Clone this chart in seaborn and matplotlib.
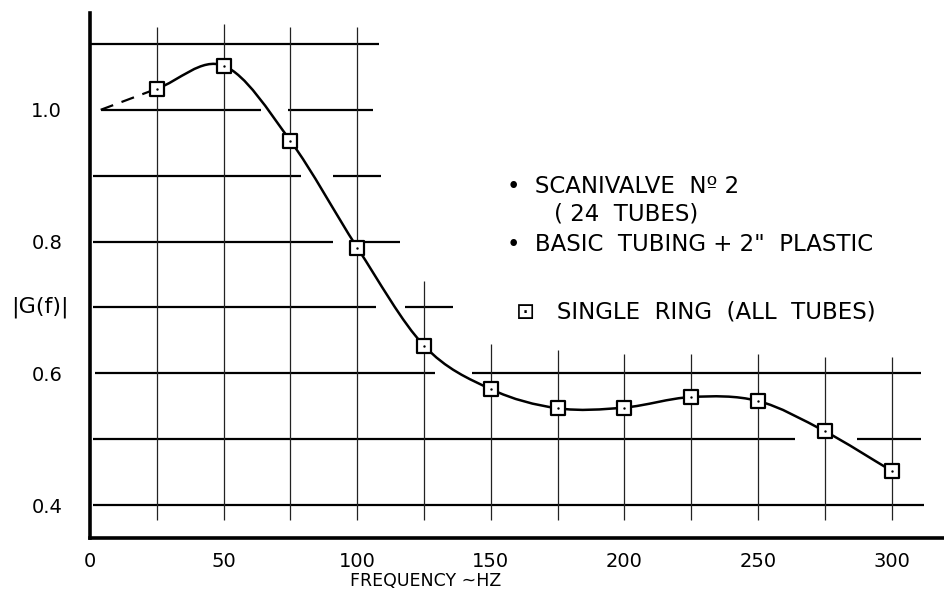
import numpy as np
import pandas as pd
import seaborn as sns
import matplotlib.pyplot as plt
from matplotlib.path import Path
from matplotlib.patches import PathPatch

# measured points (single ring, all tubes)
freq = [25, 50, 75, 100, 125, 150, 175, 200, 225, 250, 275, 300]
gain = [1.032, 1.067, 0.953, 0.791, 0.642, 0.576, 0.547, 0.548, 0.564, 0.558, 0.512, 0.452]

# dashed extrapolation toward zero frequency
lead_freq = [4, 25]
lead_gain = [1.0, 1.032]

x_ticks = [0, 50, 100, 150, 200, 250, 300]
y_ticks = [0.4, 0.6, 0.8, 1.0]

# hand-drawn grid: (y, x_start, x_end) segments with gaps
h_grid = [
    (1.1, 0, 108),
    (1.0, 74, 106), (1.0, 4, 64),
    (0.9, 1, 79), (0.9, 91, 109),
    (0.8, 1, 91), (0.8, 99, 116),
    (0.7, 1, 107), (0.7, 118, 136),
    (0.6, 2, 129), (0.6, 143, 311),
    (0.5, 1, 264), (0.5, 287, 311),
    (0.4, 1, 312),
]
# vertical grid: (x, y_bottom, y_top)
v_grid = [
    (25, 0.378, 1.125), (50, 0.378, 1.13), (75, 0.378, 1.125), (100, 0.378, 1.125),
    (125, 0.378, 0.74), (150, 0.378, 0.645), (175, 0.378, 0.635), (200, 0.378, 0.63),
    (225, 0.378, 0.63), (250, 0.378, 0.63), (275, 0.378, 0.625), (300, 0.378, 0.625),
]

df = pd.DataFrame({"freq": freq, "gain": gain})

sns.set_theme(style="white")
plt.rcParams["font.family"] = ["DejaVu Sans"]

fig = plt.figure(figsize=(9.45, 5.94), dpi=100)
ax = fig.add_axes([90 / 945, 56 / 594, 855 / 945, 525 / 594])
ax.set_xlim(0, 320)
ax.set_ylim(0.35, 1.147)

for y, x0, x1 in h_grid:
    ax.hlines(y, x0, x1, color="black", lw=1.6, zorder=1)
for x, y0, y1 in v_grid:
    ax.vlines(x, y0, y1, color="#222222", lw=0.9, zorder=1)

# smooth curve through the measured points (Catmull-Rom as cubic Bezier)
pts = df[["freq", "gain"]].to_numpy()
ext = np.vstack([2 * pts[0] - pts[1], pts, 2 * pts[-1] - pts[-2]])
verts = [tuple(pts[0])]
codes = [Path.MOVETO]
for i in range(1, len(ext) - 2):
    p0, p1, p2, p3 = ext[i - 1], ext[i], ext[i + 1], ext[i + 2]
    verts += [tuple(p1 + (p2 - p0) / 6), tuple(p2 - (p3 - p1) / 6), tuple(p2)]
    codes += [Path.CURVE4] * 3
ax.add_patch(PathPatch(Path(verts, codes), fill=False, color="black", lw=1.8, zorder=2))

ax.plot(lead_freq, lead_gain, color="black", lw=1.6, dashes=(6, 4), zorder=2)

sns.scatterplot(data=df, x="freq", y="gain", marker="s", s=110, facecolor="white",
                edgecolor="black", linewidth=1.6, zorder=3, ax=ax)
sns.scatterplot(data=df, x="freq", y="gain", marker="o", s=3, color="black",
                linewidth=0, zorder=4, ax=ax)

for side in ["top", "right"]:
    ax.spines[side].set_visible(False)
for side in ["left", "bottom"]:
    ax.spines[side].set_color("black")
    ax.spines[side].set_linewidth(2.6)

ax.set_xticks(x_ticks)
ax.set_xticklabels([str(t) for t in x_ticks])
ax.set_yticks(y_ticks)
ax.set_yticklabels([f"{t:.1f}" for t in y_ticks])
ax.tick_params(axis="x", length=0, pad=10, labelsize=14, colors="black")
ax.tick_params(axis="y", length=0, pad=20, labelsize=14, colors="black")
ax.set_xlabel("FREQUENCY ~HZ", fontsize=12.5, labelpad=1, color="black", x=0.392)
ax.set_ylabel("")
ax.text(-8, 0.7, "|G(f)|", fontsize=16, ha="right", va="center", color="black")

legend_kw = dict(transform=ax.transAxes, fontsize=16.5, color="black")
ax.text(0.488, 0.657, "•  SCANIVALVE  Nº 2", **legend_kw)
ax.text(0.543, 0.604, "( 24  TUBES)", **legend_kw)
ax.text(0.488, 0.547, "•  BASIC  TUBING + 2\"  PLASTIC", **legend_kw)
ax.text(0.498, 0.419, "\u22a1   SINGLE  RING  (ALL  TUBES)", **legend_kw)

fig.savefig("out.png", dpi=100, facecolor="white")
